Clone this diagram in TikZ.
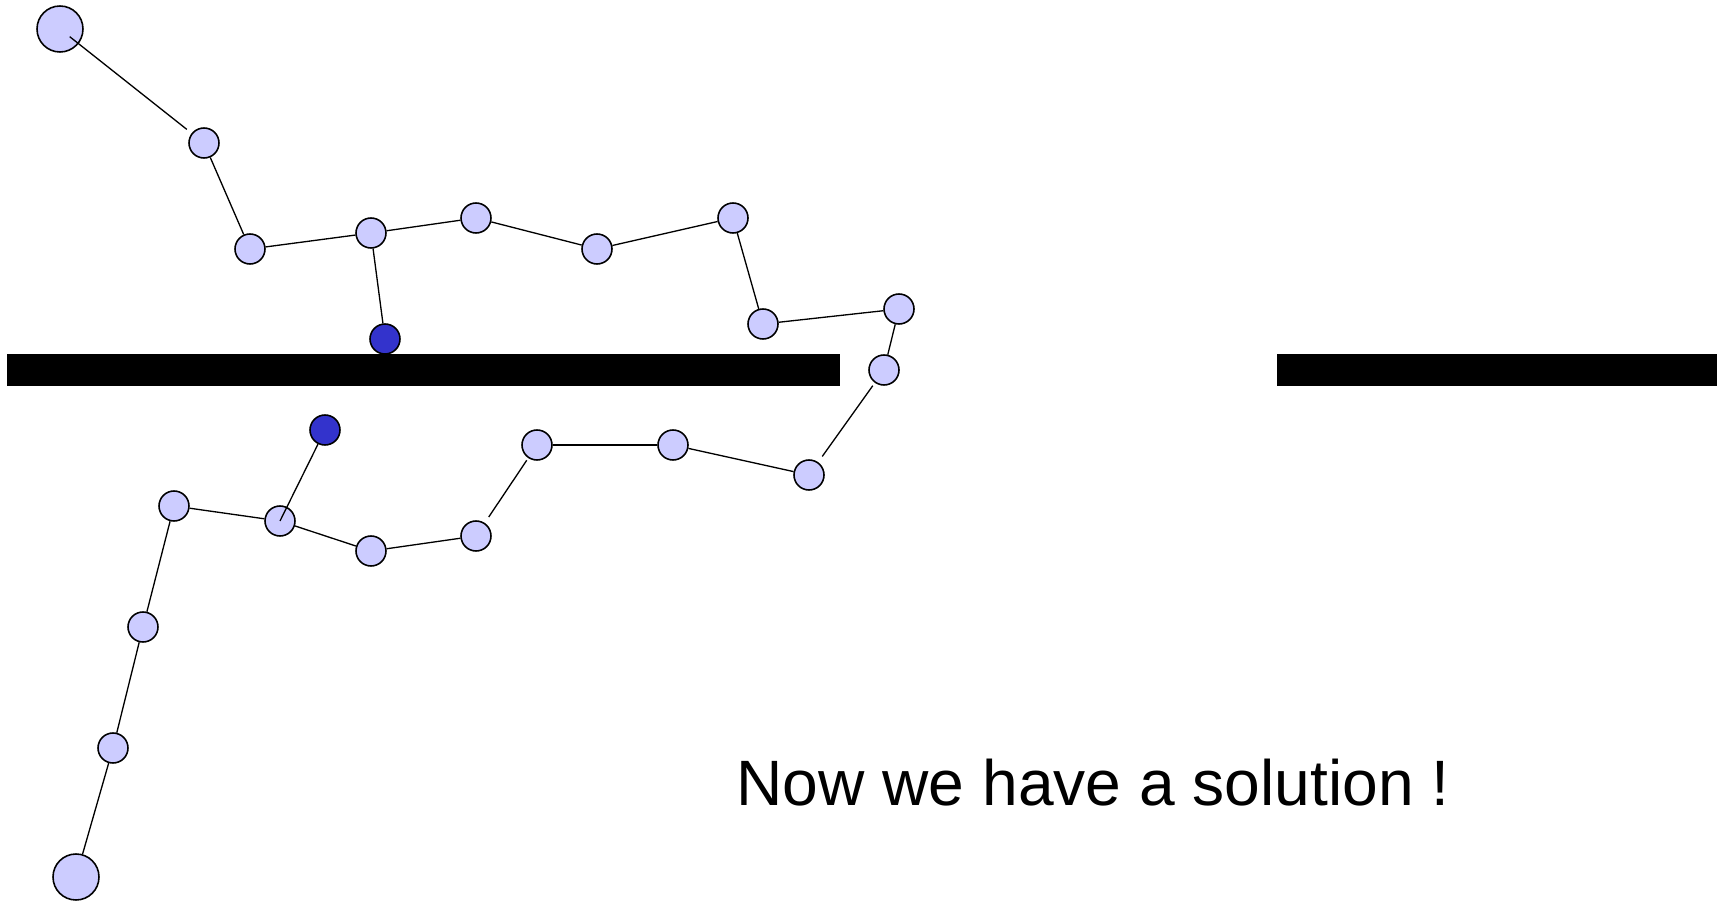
\documentclass[tikz,border=0pt]{standalone}
\usepackage{fontspec}
\setmainfont{Liberation Sans}
\usepackage{xcolor}
\usepackage{tikz}

\definecolor{bead}{HTML}{CCCCFF}
\definecolor{pin}{HTML}{3333CC}

\begin{document}
\begin{tikzpicture}[
  x=0.02cm, y=-0.02cm,
  bd/.style={circle, draw=black, fill=bead, line width=0.9pt,
             minimum size=0.6cm, inner sep=0pt},
  bigbd/.style={bd, minimum size=0.92cm},
  pinbd/.style={bd, fill=pin},
  lnk/.style={line width=0.75pt},
  wall/.style={fill=black},
]
\useasboundingbox (0,0) rectangle (1720,901);

%% ---- walls ----
\fill[wall] (7,354) rectangle (840,386);
\fill[wall] (1277,354) rectangle (1717,386);

%% ---- chain ----
\node[bigbd] (c0)  at (60,29)   {};
\node[bd]    (c1)  at (204,143) {};
\node[bd]    (c2)  at (250,249) {};
\node[bd]    (c3)  at (371,233) {};
\node[bd]    (c4)  at (476,218) {};
\node[bd]    (c5)  at (597,249) {};
\node[bd]    (c6)  at (733,218) {};
\node[bd]    (c7)  at (763,324) {};
\node[bd]    (c8)  at (899,309) {};
\node[bd]    (c9)  at (884,370) {};
\node[bd]    (c10) at (809,475) {};
\node[bd]    (c11) at (673,445) {};
\node[bd]    (c12) at (537,445) {};
\node[bd]    (c13) at (476,536) {};
\node[bd]    (c14) at (371,551) {};
\node[bd]    (c15) at (280,521) {};
\node[bd]    (c16) at (174,506) {};
\node[bd]    (c17) at (143,627) {};
\node[bd]    (c18) at (113,748) {};
\node[bigbd] (c19) at (76,877)  {};

%% pinned beads
\node[pinbd] (p1) at (385,339) {};
\node[pinbd] (p2) at (325,430) {};

\draw[lnk] (c1) -- (c2);
\draw[lnk] (c2) -- (c3);
\draw[lnk] (c3) -- (c4);
\draw[lnk] (c4) -- (c5);
\draw[lnk] (c5) -- (c6);
\draw[lnk] (c6) -- (c7);
\draw[lnk] (c7) -- (c8);
\draw[lnk] (c8) -- (c9);
\draw[lnk, shorten <=2pt, shorten >=4pt] (c9) -- (c10);
\draw[lnk] (c10) -- (c11);
\draw[lnk] (c11) -- (c12);
\draw[lnk, shorten <=1.5pt, shorten >=4pt] (c12) -- (c13);
\draw[lnk] (c13) -- (c14);
\draw[lnk] (c14) -- (c15);
\draw[lnk] (c15) -- (c16);
\draw[lnk] (c16) -- (c17);
\draw[lnk] (c17) -- (c18);
\draw[lnk] (c18) -- (c19);
\draw[lnk] (c3) -- (p1);

%% links that run into the bead
\draw[lnk, shorten <=-6.5pt, shorten >=3.5pt] (c0) -- (c1);
\draw[lnk] (p2) -- (c15.center);

\node[font=\fontsize{36.5}{44}\selectfont, anchor=base, inner sep=0pt]
      (msg) at (1093,805) {Now we have a solution !};

\end{tikzpicture}
\end{document}
